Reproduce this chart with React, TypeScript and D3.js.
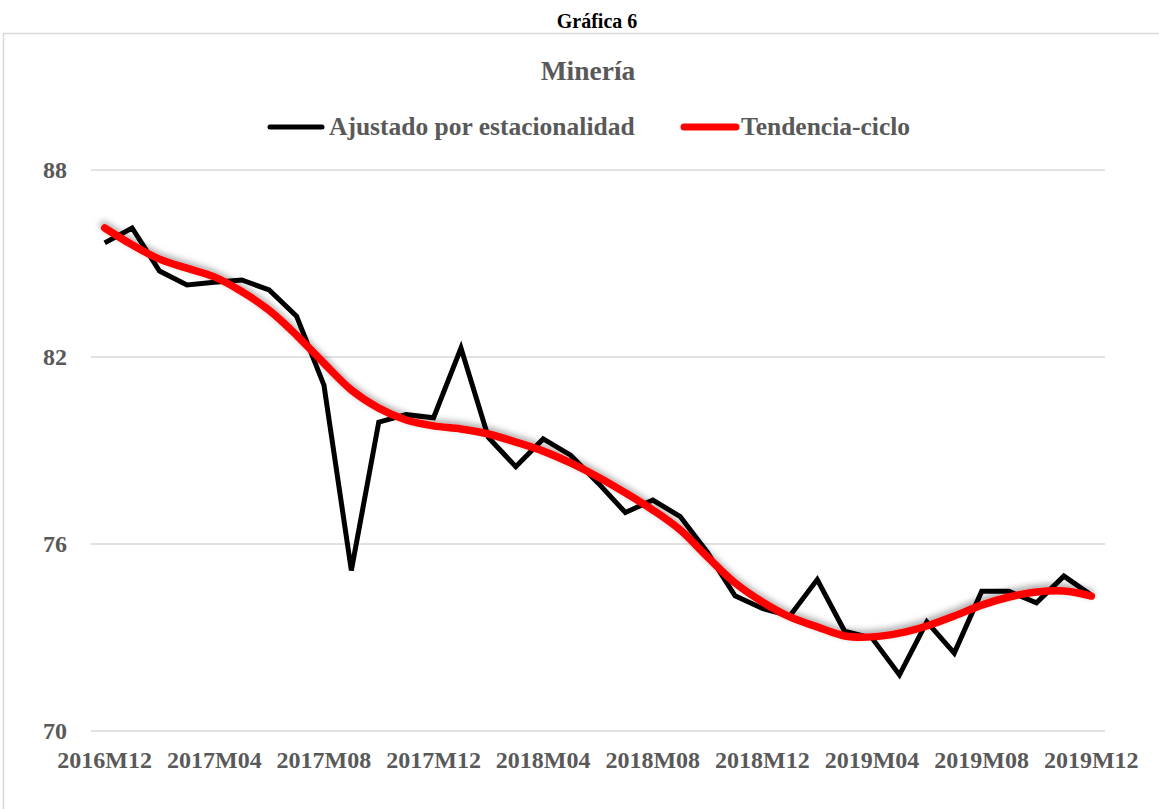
import React from "react";
import * as d3 from "d3";

const categories: string[] = [
  "2016M12","2017M01","2017M02","2017M03","2017M04","2017M05","2017M06","2017M07","2017M08","2017M09","2017M10","2017M11",
  "2017M12","2018M01","2018M02","2018M03","2018M04","2018M05","2018M06","2018M07","2018M08","2018M09","2018M10","2018M11",
  "2018M12","2019M01","2019M02","2019M03","2019M04","2019M05","2019M06","2019M07","2019M08","2019M09","2019M10","2019M11",
  "2019M12",
];

const ajustado: number[] = [
  85.66, 86.14, 84.76, 84.31, 84.40, 84.47, 84.15, 83.31, 81.10, 75.15,
  79.91, 80.15, 80.05, 82.29, 79.42, 78.48, 79.37, 78.85, 77.96, 77.01,
  77.41, 76.88, 75.72, 74.34, 73.93, 73.69, 74.86, 73.20, 72.98, 71.80,
  73.50, 72.50, 74.48, 74.48, 74.11, 74.97, 74.36,
];

const tendencia: number[] = [
  86.14, 85.60, 85.14, 84.85, 84.57, 84.10, 83.50, 82.70, 81.80, 80.94,
  80.36, 79.98, 79.79, 79.69, 79.53, 79.27, 78.98, 78.60, 78.15, 77.64,
  77.09, 76.45, 75.58, 74.75, 74.14, 73.66, 73.34, 73.05, 73.02, 73.14,
  73.37, 73.69, 74.04, 74.30, 74.46, 74.49, 74.33,
];

const yTicks: number[] = [70, 76, 82, 88];
const xTickLabels: string[] = [
  "2016M12","2017M04","2017M08","2017M12","2018M04","2018M08","2018M12","2019M04","2019M08","2019M12",
];

const W = 1159;
const H = 809;
const FONT = "'Liberation Serif', 'Times New Roman', serif";
const GRAY = "#595959";

export default function App() {
  const x = d3.scalePoint<string>().domain(categories).range([91, 1105]).padding(0.5);
  const y = d3.scaleLinear().domain([70, 88]).range([731, 170]);

  const blackLine = d3
    .line<number>()
    .x((_, i) => x(categories[i]) as number)
    .y((d) => y(d));
  const redLine = d3
    .line<number>()
    .x((_, i) => x(categories[i]) as number)
    .y((d) => y(d))
    .curve(d3.curveCatmullRom.alpha(0.5));

  return (
    <svg
      width={W}
      height={H}
      style={{ position: "absolute", left: 0, top: 0, background: "#fff" }}
      fontFamily={FONT}
    >
      <defs>
        <filter id="shadow" x="-10%" y="-10%" width="120%" height="120%">
          <feDropShadow dx="-1" dy="-3" stdDeviation="3" floodColor="#000" floodOpacity="0.35" />
        </filter>
      </defs>
      <rect x={0} y={0} width={W} height={H} fill="#fff" />
      <text x={597} y={28} textAnchor="middle" fontSize={20} fontWeight="bold" fill="#000">
        Gráfica 6
      </text>
      <rect x={3.5} y={33.5} width={W + 20} height={H + 20} fill="none" stroke="#d9d9d9" strokeWidth={1.5} />
      <text x={588} y={80} textAnchor="middle" fontSize={27.5} fontWeight="bold" fill={GRAY}>
        Minería
      </text>

      {/* legend */}
      <line x1={270} x2={322} y1={127} y2={127} stroke="#000" strokeWidth={5} strokeLinecap="round" />
      <text x={329} y={135} fontSize={25.5} fontWeight="bold" fill={GRAY}>
        Ajustado por estacionalidad
      </text>
      <line x1={684} x2={736} y1={127} y2={127} stroke="#ff0000" strokeWidth={7} strokeLinecap="round" />
      <text x={741} y={135} fontSize={25.5} fontWeight="bold" fill={GRAY}>
        Tendencia-ciclo
      </text>

      {/* grid + y ticks */}
      {yTicks.map((t) => (
        <g key={t}>
          <line x1={91} x2={1105} y1={y(t)} y2={y(t)} stroke="#d9d9d9" strokeWidth={1.5} />
          <text x={67} y={y(t) + 8} textAnchor="end" fontSize={24} fontWeight="bold" fill={GRAY}>
            {t}
          </text>
        </g>
      ))}

      {/* x labels */}
      {xTickLabels.map((c) => (
        <text key={c} x={x(c) as number} y={768} textAnchor="middle" fontSize={24} fontWeight="bold" fill={GRAY}>
          {c}
        </text>
      ))}

      <path d={blackLine(ajustado) || ""} fill="none" stroke="#000" strokeWidth={5} strokeLinejoin="miter" />
      <path
        d={redLine(tendencia) || ""}
        fill="none"
        stroke="#ff0000"
        strokeWidth={7.5}
        strokeLinecap="round"
        strokeLinejoin="round"
        filter="url(#shadow)"
      />
    </svg>
  );
}
